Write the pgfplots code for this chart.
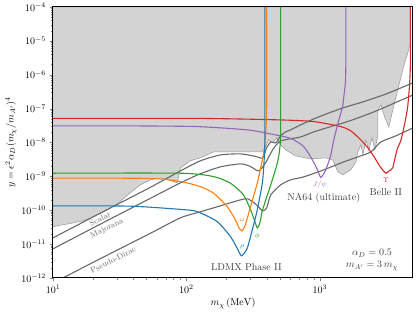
\documentclass[border=0pt]{standalone}
\usepackage{pgfplots}
\pgfplotsset{compat=1.18}
\definecolor{tblue}{HTML}{1F77B4}
\definecolor{torange}{HTML}{FF7F0E}
\definecolor{tgreen}{HTML}{2CA02C}
\definecolor{tred}{HTML}{D62728}
\definecolor{tpurple}{HTML}{9467BD}
\definecolor{excl}{RGB}{211,211,211}
\definecolor{exedge}{RGB}{150,150,150}
\definecolor{relic}{RGB}{105,105,105}
\definecolor{txt}{RGB}{60,60,60}
\begin{document}
\begin{tikzpicture}
\useasboundingbox (-53pt,-37pt) rectangle (363pt,278pt);
\begin{axis}[
  scale only axis, width=360pt, height=271pt,
  xmode=log, ymode=log,
  xmin=10, xmax=5000, ymin=1e-12, ymax=1e-4,
  ytick={1e-12,1e-11,1e-10,1e-9,1e-8,1e-7,1e-6,1e-5,1e-4},
  xtick={10,100,1000},
  tick align=outside, xtick pos=bottom, ytick pos=left,
  major tick length=3.5pt, minor tick length=2pt,
  axis line style={line width=1pt},
  xlabel={$m_\chi\,(\mathrm{MeV})$},
  ylabel={$y=\epsilon^2\alpha_D(m_\chi/m_{A'})^4$},
  label style={font=\normalsize},
  tick label style={font=\normalsize},
  xlabel style={yshift=2pt},
  ylabel style={yshift=-2pt},
  clip=true,
  axis on top,
]
% excluded region
\addplot[fill=excl, draw=exedge, line width=0.5pt] coordinates {
(10,1e-4) (10,3.24e-11) (10.7,3.47e-11) (13.4,4.05e-11) (16.8,4.86e-11) (20.0,6.38e-11)
(25.5,1.03e-10) (30.3,1.54e-10) (37.9,3.26e-10) (45.1,5.61e-10) (53.6,7.89e-10)
(63.8,9.03e-10) (73.3,7.89e-10) (85.5,6.43e-10) (90.2,1.78e-9) (107,2.87e-9)
(127,3.51e-9) (160,5.28e-9) (373,5.28e-9) (392,7.41e-9) (414,1.19e-8) (443,9.73e-9)
(475,1.37e-8) (509,8.50e-9) (555,6.05e-9) (660,4.03e-9) (855,3.28e-9) (1109,3.51e-9)
(1253,3.07e-9) (1365,1.36e-9) (1490,1.11e-9) (1710,1.56e-9) (1866,2.68e-9)
(1931,5.28e-9) (2034,8.50e-9) (2106,4.31e-9) (2218,1.19e-8) (2336,6.05e-9)
(2460,1.37e-8) (2592,6.05e-9) (2731,1.68e-8) (2731,9.16e-8) (2876,1.29e-7)
(3080,5.32e-8) (3300,2.89e-8) (3600,1.29e-7) (3929,5.00e-7) (4285,1.95e-6)
(4590,4.71e-6) (4750,7.57e-6) (4750,1e-4)
} -- cycle;
% thermal targets
\addplot[relic, line width=1.1pt, smooth, tension=0.4] coordinates {
(10,1.53e-11) (22.5,8.11e-11) (53.6,4.74e-10) (90.2,1.45e-9) (127,2.87e-9)
(180,4.3e-9) (255,4.6e-9) (330,3.9e-9) (373,3.5e-9) (400,7.0e-9) (429,1.04e-8)
(467,9.73e-9) (509,1.57e-8) (555,2.06e-8) (605,2.36e-8) (719,3.31e-8) (902,4.97e-8)
(1072,6.52e-8) (1490,1.05e-7) (2141,1.61e-7) (3243,2.84e-7) (5000,5.8e-7)
};
\addplot[relic, line width=1.1pt, smooth, tension=0.4] coordinates {
(10,7.27e-12) (22.5,3.84e-11) (53.6,2.24e-10) (90.2,6.43e-10) (127,1.19e-9)
(180,1.91e-9) (255,2.34e-9) (303,1.95e-9) (348,1.45e-9) (392,2.50e-9) (443,6.05e-9)
(509,1.11e-8) (719,1.46e-8) (902,2.06e-8) (1211,2.95e-8) (1614,4.14e-8)
(2547,8.00e-8) (3840,1.61e-7) (5000,2.53e-7)
};
\addplot[relic, line width=1.1pt, smooth, tension=0.4] coordinates {
(11.9,1.01e-12) (22.5,3.68e-12) (53.6,2.08e-11) (90.2,5.97e-11) (127,8.97e-11)
(190,1.44e-10) (255,2.03e-10) (288,2.17e-10) (330,1.54e-10) (373,9.6e-11)
(400,1.18e-10) (429,2.84e-10) (509,5.61e-10) (605,7.89e-10) (758,9.66e-10)
(1072,1.56e-9) (1515,2.68e-9) (1931,3.76e-9) (2417,5.28e-9) (2876,1.04e-8)
(3725,1.57e-8) (5000,2.70e-8)
};
% Belle II
\addplot[tred, line width=1.1pt, smooth, tension=0.4] coordinates {
(10,5.14e-8) (127,5.14e-8) (509,4.64e-8) (902,4.14e-8) (1439,2.95e-8) (1710,2.2e-8)
(2034,1.19e-8) (2296,6.93e-9) (2547,3.84e-9) (2780,2.18e-9) (2960,1.56e-9)
(3133,1.24e-9) (3300,1.45e-9) (3520,1.78e-9) (3793,6.05e-9) (4065,1.19e-8)
(4360,4.06e-8) (4563,1.15e-7) (4710,5.0e-7) (4775,1.95e-6) (4775,1e-4)
};
% NA64
\addplot[tpurple, line width=1.1pt, smooth, tension=0.4] coordinates {
(10,3.09e-8) (37.9,3.09e-8) (120,2.95e-8) (286,2.36e-8) (429,1.79e-8) (605,1.32e-8)
(758,7.57e-9) (881,3.07e-9) (961,1.56e-9) (1019,9.35e-10) (1109,1.56e-9)
(1211,4.31e-9) (1274,1.19e-8) (1390,4.64e-8) (1482,1.15e-7) (1515,2.26e-7)
(1556,5.73e-7) (1568,1.95e-6) (1568,1e-4)
};
% LDMX phi
\addplot[tgreen, line width=1.1pt, smooth, tension=0.4] coordinates {
(10,1.24e-9) (90.2,1.24e-9) (160,9.86e-10) (214,6.30e-10) (268,2.84e-10)
(303,1.03e-10) (325,4.86e-11) (340,3.03e-11) (354,3.97e-11) (371,9.6e-11)
(405,2.84e-10) (441,7.89e-10) (481,2.50e-9) (500,6.05e-9) (509,2.36e-8) (509,1e-4)
};
% LDMX omega
\addplot[torange, line width=1.1pt, smooth, tension=0.4] coordinates {
(10,8.85e-10) (53.6,8.7e-10) (90.2,7.03e-10) (127,5.00e-10) (160,3.19e-10)
(202,1.29e-10) (233,5.21e-11) (248,3.03e-11) (261,2.47e-11) (275,3.47e-11)
(303,1.29e-10) (340,6.30e-10) (371,3.07e-9) (386,7.41e-9) (396,3.31e-8)
(400,9.16e-8) (400,1e-4)
};
% LDMX rho
\addplot[tblue, line width=1.1pt, smooth, tension=0.4] coordinates {
(10,1.35e-10) (37.9,1.32e-10) (90.2,1.06e-10) (120,9.16e-11) (170,4.64e-11)
(214,1.67e-11) (240,7.62e-12) (259,4.52e-12) (286,7.62e-12) (312,2.64e-11)
(340,1.03e-10) (371,6.30e-10) (383,3.07e-9) (388,1.68e-8) (388,1e-4)
};
% labels
\node[relic, rotate=27, font=\fontsize{8}{9}\selectfont, inner sep=0pt] at (axis cs:22.5,5.6e-11) {Scalar};
\node[relic, rotate=27, font=\fontsize{8}{9}\selectfont, inner sep=0pt] at (axis cs:25.4,2.9e-11) {Majorana};
\node[relic, rotate=27, font=\fontsize{8}{9}\selectfont, inner sep=0pt] at (axis cs:28.2,3.4e-12) {Pseudo-Dirac};
\node[txt, font=\normalsize] at (axis cs:282,2.14e-12) {LDMX Phase II};
\node[txt, font=\normalsize] at (axis cs:1072,2.32e-10) {NA64 (ultimate)};
\node[txt, font=\normalsize] at (axis cs:3133,3.49e-10) {Belle II};
\node[tpurple, font=\scriptsize] at (axis cs:1000,5.61e-10) {$J/\psi$};
\node[tred, font=\scriptsize] at (axis cs:3133,7.89e-10) {$\Upsilon$};
\node[torange, font=\scriptsize] at (axis cs:262,5.21e-11) {$\omega$};
\node[tblue, font=\scriptsize] at (axis cs:262,8.3e-12) {$\rho$};
\node[tgreen, font=\scriptsize] at (axis cs:340,1.76e-11) {$\phi$};
\node[txt, font=\normalsize] at (rel axis cs:0.886,0.092) {$\alpha_D=0.5$};
\node[txt, font=\normalsize] at (rel axis cs:0.886,0.044) {$m_{A'}=3\,m_\chi$};
\end{axis}
\end{tikzpicture}
\end{document}
